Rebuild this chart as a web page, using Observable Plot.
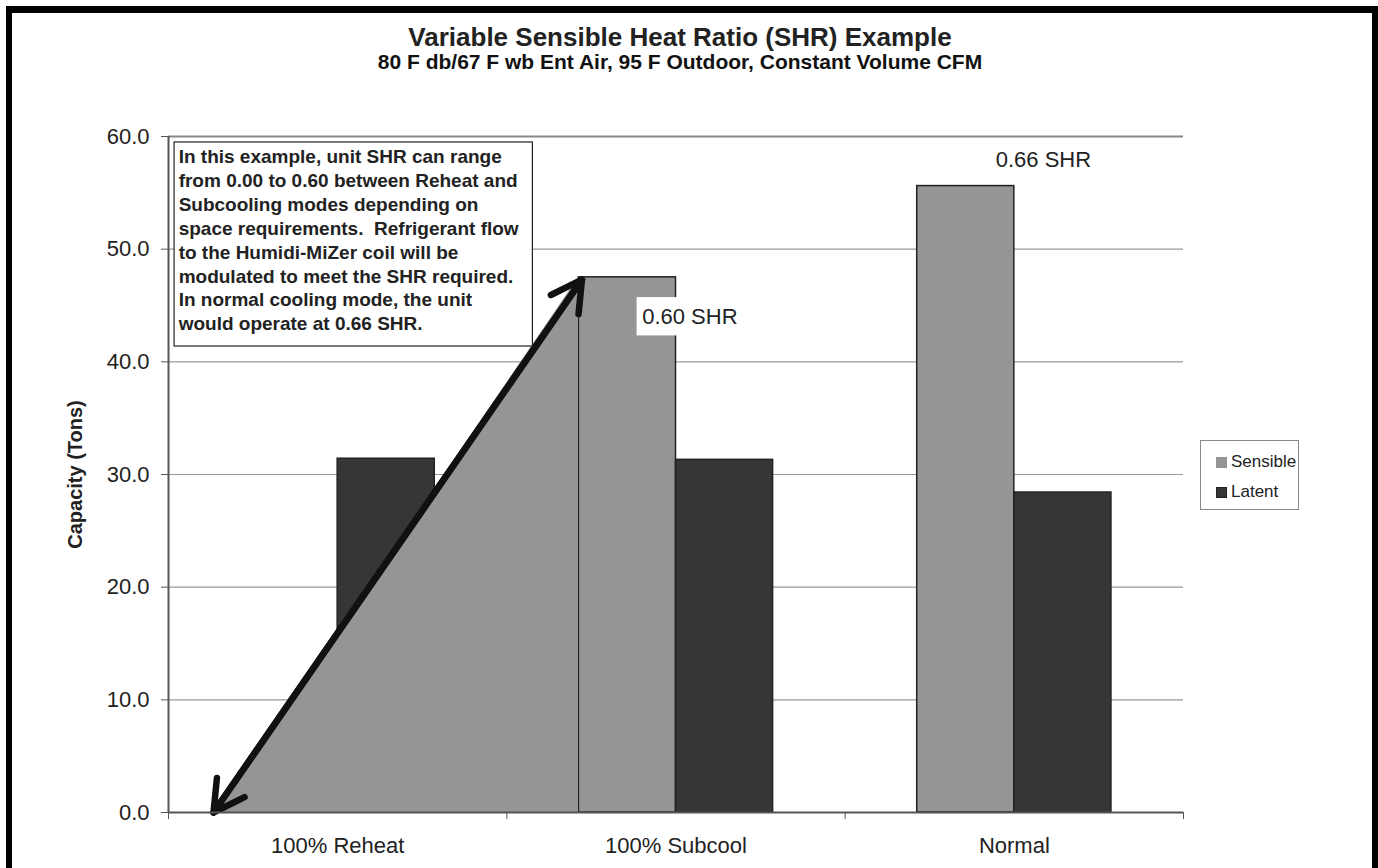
<!DOCTYPE html>
<html>
<head>
<meta charset="utf-8">
<script src="https://cdn.jsdelivr.net/npm/d3@7"></script>
<script src="https://cdn.jsdelivr.net/npm/@observablehq/plot@0.6"></script>
<style>
  body { margin: 0; background: #fff; font-family: "Liberation Sans", Arial, sans-serif; color: #222; }
  #wrap { position: relative; width: 1378px; height: 868px; overflow: hidden; background: #fff; }
  #chart { position: absolute; left: 0; top: 0; }
  #frame { position: absolute; left: 6px; top: 6px; width: 1372px; height: 900px; box-sizing: border-box;
           border-left: 6px solid #000; border-right: 6px solid #000; border-top: 7px solid #000; pointer-events: none; }
  .title { position: absolute; left: 0; width: 1360px; text-align: center; font-weight: bold; color: #222; white-space: nowrap; line-height: 1; }
  #t1 { top: 24px; font-size: 26px; }
  #t2 { top: 51px; font-size: 21px; color: #111; }
  #legend { position: absolute; left: 1200px; top: 440px; width: 99px; height: 70px; box-sizing: border-box;
            border: 1px solid #888; background: #fff; font-size: 17px; }
  .li { position: absolute; left: 15px; display: flex; align-items: center; }
  .sw { width: 11px; height: 11px; box-sizing: border-box; border: 1px solid #222; margin-right: 4px; }
</style>
</head>
<body>
<div id="wrap">
  <div id="chart"></div>
  <div id="t1" class="title"></div>
  <div id="t2" class="title"></div>
  <div id="legend"></div>
  <div id="frame"></div>
</div>
<script>
// ---- data ----
const categories = ["100% Reheat", "100% Subcool", "Normal"];
const seriesNames = ["Sensible", "Latent"];
const sensible = [0, 47.5, 55.6];
const latent = [31.4, 31.3, 28.4];
const yTicks = [0, 10, 20, 30, 40, 50, 60];
const titleText = "Variable Sensible Heat Ratio (SHR) Example";
const subtitleText = "80 F db/67 F wb Ent Air, 95 F Outdoor, Constant Volume CFM";
const yLabel = "Capacity (Tons)";
const noteLines = [
  "In this example, unit SHR can range",
  "from 0.00 to 0.60 between Reheat and",
  "Subcooling modes depending on",
  "space requirements.  Refrigerant flow",
  "to the Humidi-MiZer coil will be",
  "modulated to meet the SHR required.",
  "In normal cooling mode, the unit",
  "would operate at 0.66 SHR."
];
const shrLabels = ["0.60 SHR", "0.66 SHR"];

// ---- styles / layout ----
const colors = {Sensible: "#969494", Latent: "#383634"};
const barW = 0.287;
const font = "'Liberation Sans', Arial, sans-serif";

const rows = [];
categories.forEach((c, i) => {
  rows.push({i, series: "Sensible", value: sensible[i], x1: i - barW, x2: i});
  rows.push({i, series: "Latent", value: latent[i], x1: i, x2: i + barW});
});

// triangle & arrow geometry (category units), top follows the Subcool sensible bar
const triLeft = -0.367;
const triRight = 1 - barW - 0.003;
const triangle = [
  {x: triLeft, y: 0},
  {x: triRight, y: sensible[1]},
  {x: triRight, y: 0}
];
const arrowTop = {x: 1 - barW + 0.009, y: sensible[1] - 0.2};
const arrows = [
  {x1: triLeft, y1: 0, x2: arrowTop.x, y2: arrowTop.y},
  {x1: arrowTop.x, y1: arrowTop.y, x2: triLeft, y2: 0}
];

const noteBox = {x1: -0.482, x2: 0.577, y1: 41.36, y2: 59.47};
const lbl60Box = {x1: 0.885, x2: 1.19, y1: 42.3, y2: 45.7};

const plot = Plot.plot({
  width: 1378,
  height: 868,
  marginLeft: 168,
  marginRight: 195,
  marginTop: 136,
  marginBottom: 56,
  style: {fontFamily: font, fontSize: "22px", color: "#222", background: "transparent"},
  x: {type: "linear", domain: [-0.5, 2.5]},
  y: {domain: [0, 60]},
  marks: [
    Plot.ruleY(yTicks.filter(d => d > 0 && d < 60), {stroke: "#999", strokeWidth: 1.2}),
    Plot.ruleY([60], {stroke: "#888", strokeWidth: 2}),
    Plot.rectY(rows, {x1: "x1", x2: "x2", y1: 0, y2: "value", fill: d => colors[d.series], stroke: "#222", strokeWidth: 1.5}),
    Plot.line(triangle, {x: "x", y: "y", fill: colors.Sensible, stroke: "none"}),
    Plot.arrow(arrows, {x1: "x1", y1: "y1", x2: "x2", y2: "y2", stroke: "#111", strokeWidth: 6.5, headLength: 8, headAngle: 58}),
    Plot.ruleX([-0.5], {stroke: "#555", strokeWidth: 2}),
    Plot.ruleY([0], {stroke: "#555", strokeWidth: 2}),
    Plot.axisY({ticks: yTicks, tickFormat: d3.format(".1f"), tickSize: 7, tickPadding: 12, fontSize: 22, label: null, stroke: "#555"}),
    Plot.axisX({ticks: [-0.5, 0.5, 1.5, 2.5], tickSize: 7, tickFormat: () => "", label: null, stroke: "#555"}),
    Plot.axisX({ticks: [0, 1, 2], tickSize: 0, tickPadding: 25, tickFormat: d => categories[d], fontSize: 22, label: null}),
    Plot.text([yLabel], {frameAnchor: "left", dx: -93, rotate: -90, textAnchor: "middle", fontSize: 20, fontWeight: "bold", fill: "#222"}),
    // note box
    Plot.rect([noteBox], {x1: "x1", x2: "x2", y1: "y1", y2: "y2", fill: "#fff", stroke: "#222", strokeWidth: 1.2}),
    Plot.text([noteLines.join("\n")], {x: noteBox.x1 + 0.012, y: noteBox.y2 - 0.3, textAnchor: "start", lineAnchor: "top", lineHeight: 1.26, fontSize: 19, fontWeight: "bold", fill: "#222"}),
    // SHR labels
    Plot.rect([lbl60Box], {x1: "x1", x2: "x2", y1: "y1", y2: "y2", fill: "#fff"}),
    Plot.text([shrLabels[0]], {x: lbl60Box.x1 + 0.015, y: (lbl60Box.y1 + lbl60Box.y2) / 2, textAnchor: "start", fontSize: 22, fill: "#222"}),
    Plot.text([shrLabels[1]], {x: 2.086, y: 57.9, fontSize: 22, fill: "#222"})
  ]
});
document.getElementById("chart").appendChild(plot);
document.getElementById("t1").textContent = titleText;
document.getElementById("t2").textContent = subtitleText;

const legend = document.getElementById("legend");
seriesNames.forEach((s, k) => {
  const item = document.createElement("div");
  item.className = "li";
  item.style.top = (11 + k * 30) + "px";
  const sw = document.createElement("span");
  sw.className = "sw";
  sw.style.background = colors[s];
  sw.style.borderColor = s === "Sensible" ? colors.Sensible : "#222";
  const tx = document.createElement("span");
  tx.textContent = s;
  item.appendChild(sw);
  item.appendChild(tx);
  legend.appendChild(item);
});
</script>
</body>
</html>
